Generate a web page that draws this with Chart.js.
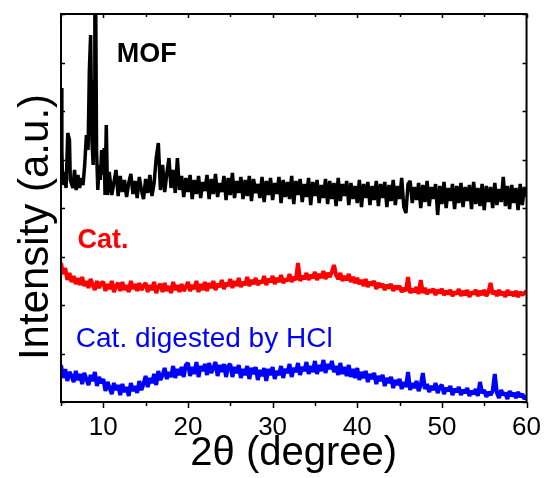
<!DOCTYPE html>
<html>
<head>
<meta charset="utf-8">
<script src="https://cdn.jsdelivr.net/npm/chart.js@4/dist/chart.umd.min.js"></script>
<style>
  html, body { margin: 0; padding: 0; background: #fff; }
  #wrap { width: 551px; height: 478px; }
</style>
</head>
<body>
<div id="wrap"><canvas id="xrd"></canvas></div>
<script>
// 2-theta grid (0.25 deg) shared by the two catalyst patterns
const theta = [
  5, 5.25, 5.5, 5.75, 6, 6.25, 6.5, 6.75, 7, 7.25, 7.5, 7.75, 8, 8.25, 8.5, 8.75, 9, 9.25, 9.5, 9.75,
  10, 10.25, 10.5, 10.75, 11, 11.25, 11.5, 11.75, 12, 12.25, 12.5, 12.75, 13, 13.25, 13.5, 13.75, 14, 14.25, 14.5, 14.75,
  15, 15.25, 15.5, 15.75, 16, 16.25, 16.5, 16.75, 17, 17.25, 17.5, 17.75, 18, 18.25, 18.5, 18.75, 19, 19.25, 19.5, 19.75,
  20, 20.25, 20.5, 20.75, 21, 21.25, 21.5, 21.75, 22, 22.25, 22.5, 22.75, 23, 23.25, 23.5, 23.75, 24, 24.25, 24.5, 24.75,
  25, 25.25, 25.5, 25.75, 26, 26.25, 26.5, 26.75, 27, 27.25, 27.5, 27.75, 28, 28.25, 28.5, 28.75, 29, 29.25, 29.5, 29.75,
  30, 30.25, 30.5, 30.75, 31, 31.25, 31.5, 31.75, 32, 32.25, 32.5, 32.75, 33, 33.25, 33.5, 33.75, 34, 34.25, 34.5, 34.75,
  35, 35.25, 35.5, 35.75, 36, 36.25, 36.5, 36.75, 37, 37.25, 37.5, 37.75, 38, 38.25, 38.5, 38.75, 39, 39.25, 39.5, 39.75,
  40, 40.25, 40.5, 40.75, 41, 41.25, 41.5, 41.75, 42, 42.25, 42.5, 42.75, 43, 43.25, 43.5, 43.75, 44, 44.25, 44.5, 44.75,
  45, 45.25, 45.5, 45.75, 46, 46.25, 46.5, 46.75, 47, 47.25, 47.5, 47.75, 48, 48.25, 48.5, 48.75, 49, 49.25, 49.5, 49.75,
  50, 50.25, 50.5, 50.75, 51, 51.25, 51.5, 51.75, 52, 52.25, 52.5, 52.75, 53, 53.25, 53.5, 53.75, 54, 54.25, 54.5, 54.75,
  55, 55.25, 55.5, 55.75, 56, 56.25, 56.5, 56.75, 57, 57.25, 57.5, 57.75, 58, 58.25, 58.5, 58.75, 59, 59.25, 59.5, 59.75,
  60
];

// Cat. (red), offset intensity
const catI = [
  139, 128, 134, 122, 129, 120, 126, 118, 124, 117, 125, 116, 121, 114, 123, 117, 112, 121, 114, 119,
  120, 111, 118, 113, 121, 110, 116, 119, 111, 120, 112, 117, 110, 121, 113, 118, 111, 119, 112, 116,
  119, 110, 117, 112, 120, 109, 115, 118, 110, 119, 111, 116, 109, 120, 112, 117, 110, 118, 111, 115,
  120, 111, 117, 113, 121, 110, 118, 112, 120, 111, 119, 114, 121, 112, 118, 115, 122, 113, 119, 116,
  123, 114, 121, 116, 124, 115, 120, 117, 125, 116, 122, 118, 124, 117, 121, 119, 126, 117, 123, 120,
  126, 118, 124, 120, 127, 119, 123, 121, 128, 120, 125, 122, 139, 121, 126, 123, 129, 122, 127, 124,
  130, 122, 128, 124, 131, 123, 129, 125, 130, 137, 127, 123, 129, 121, 126, 122, 128, 120, 125, 119,
  124, 118, 122, 116, 123, 115, 120, 117, 121, 113, 119, 115, 118, 112, 117, 114, 118, 111, 116, 113,
  116, 110, 114, 111, 125, 109, 113, 110, 115, 108, 122, 109, 114, 108, 112, 110, 113, 107, 112, 109,
  113, 107, 111, 108, 112, 106, 110, 108, 113, 106, 111, 107, 112, 105, 110, 108, 112, 106, 111, 107,
  112, 106, 110, 119, 108, 111, 106, 112, 107, 110, 105, 112, 107, 110, 106, 111, 105, 110, 107, 109,
  111
];

// Cat. digested by HCl (blue)
const hclI = [
  37, 24, 33, 21, 30, 26, 20, 31, 22, 28, 18, 29, 23, 17, 27, 21, 30, 16, 25, 19,
  23, 11, 20, 14, 8, 19, 12, 17, 7, 18, 10, 15, 6, 19, 11, 16, 9, 21, 12, 18,
  26, 15, 24, 19, 28, 17, 31, 22, 27, 34, 23, 30, 25, 36, 24, 33, 27, 35, 25, 37,
  39, 26, 35, 28, 40, 25, 36, 31, 38, 27, 39, 29, 34, 40, 26, 37, 30, 38, 25, 36,
  38, 25, 35, 29, 37, 24, 33, 27, 36, 23, 34, 28, 35, 22, 32, 26, 34, 21, 33, 27,
  35, 23, 31, 27, 36, 24, 33, 29, 38, 25, 34, 30, 39, 27, 35, 31, 40, 28, 36, 30,
  41, 28, 37, 31, 42, 29, 38, 33, 41, 30, 36, 27, 39, 28, 35, 26, 37, 25, 33, 24,
  34, 22, 30, 24, 31, 20, 28, 23, 29, 18, 26, 21, 27, 16, 24, 19, 25, 14, 22, 17,
  23, 13, 20, 15, 30, 12, 19, 14, 21, 11, 17, 29, 13, 18, 10, 16, 12, 19, 9, 15,
  17, 8, 14, 11, 16, 7, 13, 10, 15, 7, 12, 9, 14, 6, 11, 8, 13, 6, 20, 9,
  12, 5, 10, 7, 11, 28, 9, 4, 12, 7, 9, 3, 11, 6, 9, 4, 10, 5, 8, 3,
  6
];

// MOF (black) has its own grid, finer around the low-angle peaks
const mofTheta = [
  5, 5.1, 5.2, 5.4, 5.6, 5.8, 6, 6.1, 6.4, 6.6,
  6.8, 7, 7.2, 7.4, 7.6, 7.8, 8, 8.2, 8.35, 8.5,
  8.65, 8.8, 8.9, 9, 9.1, 9.2, 9.35, 9.5, 9.65, 9.8,
  10, 10.1, 10.2, 10.35, 10.5, 10.7, 11, 11.5, 11.75,
  12, 12.25, 12.5, 12.75, 13, 13.25, 13.5, 13.75, 14, 14.25, 14.5, 14.75, 15, 15.25, 15.5, 15.75, 16, 16.25, 16.5, 16.75,
  17, 17.25, 17.5, 17.75, 18, 18.25, 18.5, 18.75, 19, 19.25, 19.5, 19.75, 20, 20.25, 20.5, 20.75, 21, 21.25, 21.5, 21.75,
  22, 22.25, 22.5, 22.75, 23, 23.25, 23.5, 23.75, 24, 24.25, 24.5, 24.75, 25, 25.25, 25.5, 25.75, 26, 26.25, 26.5, 26.75,
  27, 27.25, 27.5, 27.75, 28, 28.25, 28.5, 28.75, 29, 29.25, 29.5, 29.75, 30, 30.25, 30.5, 30.75, 31, 31.25, 31.5, 31.75,
  32, 32.25, 32.5, 32.75, 33, 33.25, 33.5, 33.75, 34, 34.25, 34.5, 34.75, 35, 35.25, 35.5, 35.75, 36, 36.25, 36.5, 36.75,
  37, 37.25, 37.5, 37.75, 38, 38.25, 38.5, 38.75, 39, 39.25, 39.5, 39.75, 40, 40.25, 40.5, 40.75, 41, 41.25, 41.5, 41.75,
  42, 42.25, 42.5, 42.75, 43, 43.25, 43.5, 43.75, 44, 44.25, 44.5, 44.75, 45, 45.25, 45.5, 45.75, 46, 46.25, 46.5, 46.75,
  47, 47.25, 47.5, 47.75, 48, 48.25, 48.5, 48.75, 49, 49.25, 49.5, 49.75, 50, 50.25, 50.5, 50.75, 51, 51.25, 51.5, 51.75,
  52, 52.25, 52.5, 52.75, 53, 53.25, 53.5, 53.75, 54, 54.25, 54.5, 54.75, 55, 55.25, 55.5, 55.75, 56, 56.25, 56.5, 56.75,
  57, 57.25, 57.5, 57.75, 58, 58.25, 58.5, 58.75, 59, 59.25, 59.5, 59.75,
  60
];
const mofI = [
  314, 252, 217, 230, 214, 269, 262, 222, 214, 232,
  212, 227, 214, 224, 217, 237, 267, 252, 332, 367,
  262, 237, 322, 402, 402, 252, 212, 237, 222, 252,
  227, 254, 207, 277, 207, 230, 207, 232, 206,
  226, 210, 222, 205, 219, 228, 208, 221, 204, 225, 212, 203, 223, 209, 227, 206, 219, 244, 259, 212,
  237, 210, 228, 244, 214, 232, 209, 244, 212, 226, 205, 224, 210, 227, 203, 222, 208, 226, 204, 220,
  211, 227, 203, 223, 208, 228, 205, 219, 210, 226, 202, 224, 207, 229, 204, 221, 209, 225, 203, 222,
  206, 226, 201, 223, 209, 218, 204, 225, 200, 221, 207, 224, 202, 219, 208, 225, 199, 222, 205, 220,
  203, 226, 198, 221, 207, 223, 200, 218, 205, 224, 197, 220, 206, 222, 199, 217, 204, 223, 198, 221,
  203, 219, 196, 224, 201, 218, 206, 221, 197, 219, 203, 216, 199, 222, 195, 218, 204, 220, 197, 216,
  202, 221, 196, 218, 204, 220, 195, 217, 201, 222, 197, 216, 203, 224, 195, 189, 218, 221, 199, 215,
  202, 219, 194, 217, 200, 221, 196, 215, 203, 218, 187, 216, 198, 220, 194, 214, 201, 218, 193, 216,
  199, 219, 195, 215, 201, 217, 193, 220, 198, 214, 196, 218, 192, 216, 200, 215, 194, 219, 197, 213,
  200, 225, 196, 216, 193, 217, 199, 214, 192, 218, 197, 215,
  205
];

const xTicks = [10, 20, 30, 40, 50, 60];

const FONT = "'Liberation Sans', Arial, sans-serif";

function pts(xs, ys) {
  return xs.map((x, i) => ({ x: x, y: ys[i] }));
}

// frame, tick marks, y title and the curve labels
const framePlugin = {
  id: "frame",
  afterDraw(chart) {
    const { ctx, chartArea: a, scales } = chart;
    const xs = scales.x, ys = scales.y;
    ctx.save();
    ctx.strokeStyle = "#000";
    ctx.lineWidth = 1.5;
    ctx.beginPath();
    for (let v = 5; v <= 60; v += 5) {
      const px = Math.round(xs.getPixelForValue(v)) + 0.5;
      const major = v % 10 === 0;
      ctx.moveTo(px, a.bottom);
      ctx.lineTo(px, a.bottom + (major ? 6 : 4));
      ctx.moveTo(px, a.top);
      ctx.lineTo(px, a.top + (major ? 4 : 3));
    }
    for (let v = 0; v <= 388; v += 48.5) {
      const py = Math.round(ys.getPixelForValue(v)) + 0.5;
      ctx.moveTo(a.left, py);
      ctx.lineTo(a.left + 4, py);
      ctx.moveTo(a.right, py);
      ctx.lineTo(a.right - 4, py);
    }
    ctx.stroke();
    ctx.lineWidth = 2;
    ctx.strokeRect(a.left, a.top, a.right - a.left, a.bottom - a.top);

    // y axis title
    ctx.save();
    ctx.translate(48, 227);
    ctx.rotate(-Math.PI / 2);
    ctx.font = "42px " + FONT;
    ctx.fillStyle = "#000";
    ctx.textAlign = "center";
    ctx.textBaseline = "alphabetic";
    ctx.fillText("Intensity (a.u.)", 0, 0);
    ctx.restore();

    const labels = [
      { text: "MOF", x: 11.6, y: 340, color: "#000", font: "bold 27px " + FONT },
      { text: "Cat.", x: 6.95, y: 154, color: "#ff0000", font: "bold 27px " + FONT },
      { text: "Cat. digested by HCl", x: 6.75, y: 55, color: "#0000ff", font: "28px " + FONT }
    ];
    ctx.textBaseline = "alphabetic";
    ctx.textAlign = "left";
    labels.forEach(l => {
      ctx.font = l.font;
      ctx.fillStyle = l.color;
      ctx.fillText(l.text, xs.getPixelForValue(l.x), ys.getPixelForValue(l.y));
    });
    ctx.restore();
  }
};

const lineStyle = { borderWidth: 4, pointRadius: 0, borderJoinStyle: "bevel", tension: 0 };

new Chart(document.getElementById("xrd"), {
  type: "line",
  data: {
    datasets: [
      Object.assign({ label: "MOF", data: pts(mofTheta, mofI), borderColor: "#000" }, lineStyle, { borderWidth: 3.5 }),
      Object.assign({ label: "Cat.", data: pts(theta, catI), borderColor: "#ff0000" }, lineStyle),
      Object.assign({ label: "Cat. digested by HCl", data: pts(theta, hclI), borderColor: "#0000ff" }, lineStyle)
    ]
  },
  options: {
    responsive: true,
    maintainAspectRatio: false,
    animation: false,
    layout: { padding: { left: 0, right: 15, top: 14, bottom: 0 } },
    plugins: {
      legend: { display: false },
      tooltip: { enabled: false }
    },
    scales: {
      x: {
        type: "linear",
        min: 5,
        max: 60,
        grid: { display: false, drawTicks: false },
        border: { display: false },
        afterBuildTicks: (s) => { s.ticks = xTicks.map(v => ({ value: v })); },
        afterFit: (s) => { s.height = 76; },
        ticks: {
          color: "#000",
          padding: 10,
          autoSkip: false,
          maxRotation: 0,
          font: { family: FONT, size: 26 }
        },
        title: {
          display: true,
          text: "2θ (degree)",
          color: "#000",
          padding: { top: 0, bottom: 0 },
          font: { family: FONT, size: 40 }
        }
      },
      y: {
        min: 0,
        max: 388,
        grid: { display: false, drawTicks: false },
        border: { display: false },
        ticks: { display: false },
        afterFit: (s) => { s.width = 61; }
      }
    }
  },
  plugins: [framePlugin]
});
</script>
</body>
</html>
